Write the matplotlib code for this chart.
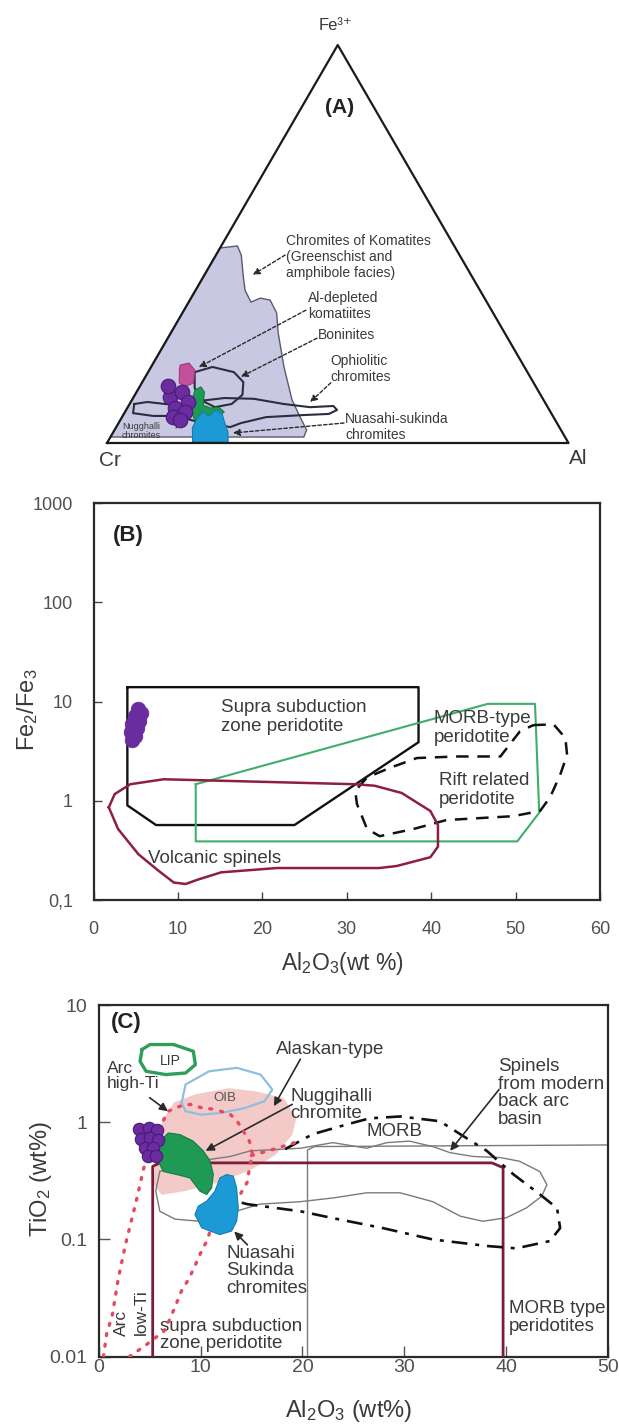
import numpy as np
import matplotlib
matplotlib.use("Agg")
import matplotlib.pyplot as plt
from matplotlib.ticker import NullLocator

plt.rcParams['font.family'] = ['Liberation Sans', 'DejaVu Sans']
plt.rcParams['mathtext.default'] = 'regular'

TXT = '#3a3a3a'
TICK = '#505050'

# ---------------- (A) Cr - Al - Fe3+ ternary, fields as % Fe3+ and % Al (Cr = rest)
komatiite_fe = [49.0, 49.5, 47.2, 42.2, 38.4, 35.4, 36.4, 35.9, 32.7, 27.6, 19.1, 10.8, 6.5, 3.3, 1.5, 1.5]
komatiite_al = [0.0, 3.5, 5.5, 8.4, 10.7, 13.5, 15.0, 17.4, 20.4, 23.3, 28.8, 34.7, 38.6, 41.6, 41.9, 0.0]

ophiolite_fe = [9.8, 10.3, 9.8, 9.3, 10.6, 11.3, 11.1, 9.8, 9.0, 9.3, 8.3, 7.3, 7.0, 6.5, 5.0, 4.0, 5.5, 6.8, 6.8, 7.5]
ophiolite_al = [1.0, 3.6, 7.7, 11.8, 15.0, 19.8, 26.3, 33.4, 39.5, 44.4, 45.7, 44.4, 38.7, 31.2, 26.5, 24.7, 16.3, 11.8, 6.6, 1.9]

boninite_fe = [17.8, 19.1, 17.8, 15.3, 12.1, 9.8, 9.0, 10.8, 13.8]
boninite_al = [10.1, 13.3, 18.6, 21.9, 23.3, 22.1, 18.9, 14.9, 12.1]

al_depleted_fe = [19.6, 20.1, 18.3, 15.1, 14.1, 15.1, 18.8]
al_depleted_al = [6.1, 7.7, 9.9, 11.2, 9.9, 8.1, 6.3]

green_a_fe = [13.3, 14.1, 12.8, 9.5, 8.8, 9.0, 7.8, 6.3, 5.8, 5.8, 7.8, 11.3]
green_a_al = [12.4, 13.3, 14.7, 16.1, 18.0, 19.7, 21.5, 20.5, 17.9, 16.1, 14.4, 12.9]

nuasahi_a_fe = [0.3, 3.8, 6.3, 7.8, 6.8, 8.3, 7.3, 5.3, 2.8, 0.3]
nuasahi_a_al = [18.4, 16.6, 16.4, 16.9, 18.7, 19.5, 21.3, 22.8, 24.8, 26.1]

nuggihalli_a_fe = [11.6, 12.8, 10.3, 8.8, 7.8, 6.5, 5.8, 14.3]
nuggihalli_a_al = [7.9, 9.9, 12.4, 10.4, 13.0, 11.1, 12.9, 6.1]

# ---------------- (B) Al2O3 vs Fe2/Fe3
supra_al = [4.0, 38.5, 38.5, 23.8, 7.4, 4.0]
supra_fe = [14, 14, 3.9, 0.57, 0.57, 0.9]

morb_al = [12.1, 46.7, 52.3, 52.8, 50.2, 12.1]
morb_fe = [1.47, 9.5, 9.5, 0.76, 0.39, 0.39]

rift_al = [52.1, 54.5, 55.9, 56.1, 55.3, 54.1, 52.9, 49.7, 45.8, 41.8, 37.9, 33.9, 32.4, 31.2,
           31.0, 32.4, 35.1, 38.3, 43.0, 48.2, 49.3, 50.5]
rift_fe = [5.8, 5.9, 4.3, 2.9, 1.85, 1.09, 0.79, 0.70, 0.67, 0.64, 0.52, 0.44, 0.52, 0.93,
           1.26, 1.72, 2.15, 2.7, 2.8, 2.8, 3.7, 5.0]

volcanic_al = [1.8, 2.5, 4.35, 8.3, 31.0, 33.3, 36.5, 39.9, 40.8, 40.8, 39.9, 35.9, 33.8, 21.7,
               15.1, 12.3, 10.9, 9.5, 7.6, 5.3, 2.9]
volcanic_fe = [0.86, 1.17, 1.47, 1.65, 1.47, 1.42, 1.2, 0.79, 0.57, 0.345, 0.27, 0.22, 0.21, 0.21,
               0.19, 0.16, 0.145, 0.15, 0.2, 0.29, 0.52]

nuggihalli_b_al = [5.3, 5.6, 4.9, 5.4, 4.6, 5.2, 4.4, 4.9, 4.6]
nuggihalli_b_fe = [8.5, 7.6, 7.2, 6.4, 5.9, 5.4, 4.9, 4.5, 4.1]

# ---------------- (C) Al2O3 vs TiO2
morb_c_al = [6.0, 5.6, 6.0, 7.5, 9.9, 12.9, 15.8, 19.8, 23.0, 26.3, 29.6, 32.8, 35.5, 37.7, 40.0,
             42.0, 43.5, 44.0, 43.3, 41.3, 39.4, 36.8, 34.5, 32.8, 30.5, 28.3, 26.3, 23.0, 19.8,
             14.9, 12.9, 8.5]
morb_c_ti = [0.38, 0.26, 0.174, 0.149, 0.143, 0.168, 0.20, 0.21, 0.226, 0.25, 0.25, 0.21, 0.158,
             0.143, 0.153, 0.186, 0.234, 0.294, 0.38, 0.465, 0.50, 0.51, 0.55, 0.62, 0.69, 0.67,
             0.60, 0.67, 0.60, 0.57, 0.51, 0.45]

backarc_al = [18.3, 21.0, 24.4, 26.6, 29.6, 33.5, 35.5, 38.1, 40.7, 43.3, 45.0, 45.3, 44.3, 41.0,
              38.1, 32.8, 27.9, 23.0, 19.8, 14.6, 13.1]
backarc_ti = [0.59, 0.79, 0.96, 1.08, 1.12, 1.02, 0.79, 0.57, 0.36, 0.243, 0.185, 0.125, 0.097,
              0.084, 0.088, 0.10, 0.125, 0.152, 0.174, 0.20, 0.216]

peridotite_al = [5.3, 5.3, 6.0, 38.6, 39.7, 39.7]
peridotite_ti = [0.01, 0.42, 0.45, 0.45, 0.41, 0.01]

morb_box_al = [20.5, 20.5, 21.2, 50.0]
morb_box_ti = [0.01, 0.58, 0.62, 0.64]

alaskan_al = [5.5, 6.2, 7.4, 9.6, 12.8, 15.5, 18.2, 19.4, 19.0, 17.4, 15.1, 12.0, 8.6, 6.2, 5.4]
alaskan_ti = [0.44, 1.0, 1.48, 1.74, 1.95, 1.83, 1.6, 1.08, 0.78, 0.53, 0.40, 0.31, 0.26, 0.24, 0.29]

arc_left_al = [0.46, 0.78, 1.35, 1.93, 2.71, 3.67, 4.25, 4.84, 6.8, 8.0, 9.0, 10.2, 11.4]
arc_left_ti = [0.010, 0.0156, 0.023, 0.047, 0.097, 0.21, 0.35, 0.57, 1.24, 1.37, 1.42, 1.32, 1.29]

arc_right_al = [3.0, 4.6, 6.4, 7.0, 7.6, 8.1, 8.9, 9.5, 10.1, 10.7, 11.0, 13.9, 14.6, 14.8, 15.1,
                14.8, 14.2, 13.6, 12.9, 11.4]
arc_right_ti = [0.010, 0.0125, 0.0165, 0.021, 0.028, 0.036, 0.047, 0.061, 0.08, 0.10, 0.125, 0.243,
                0.31, 0.41, 0.53, 0.69, 0.84, 1.02, 1.17, 1.29]

arc_mid_al = [15.0, 17.5, 19.5]
arc_mid_ti = [0.52, 0.60, 0.68]

lip_al = [4.26, 5.03, 7.36, 9.29, 9.49, 8.53, 6.58, 4.65, 4.06]
lip_ti = [4.17, 4.6, 4.6, 4.03, 3.1, 2.63, 2.55, 2.72, 3.31]

oib_al = [8.14, 8.53, 10.84, 13.56, 15.89, 17.05, 16.27, 14.34, 12.01, 10.07, 8.53]
oib_ti = [1.46, 2.10, 2.72, 2.91, 2.55, 1.90, 1.51, 1.32, 1.20, 1.16, 1.24]

green_c_al = [6.02, 6.83, 7.98, 9.28, 10.26, 10.92, 11.25, 11.09, 10.60, 9.94, 8.96, 7.65, 6.34, 5.85]
green_c_ti = [0.69, 0.81, 0.785, 0.69, 0.57, 0.47, 0.36, 0.275, 0.242, 0.258, 0.335, 0.358, 0.38, 0.465]

nuasahi_c_al = [11.90, 12.56, 13.21, 13.54, 13.70, 13.54, 13.05, 11.90, 10.92, 10.11, 9.45, 9.77, 10.60, 11.41]
nuasahi_c_ti = [0.335, 0.358, 0.347, 0.275, 0.186, 0.143, 0.118, 0.11, 0.118, 0.126, 0.163, 0.192, 0.212, 0.258]

nuggihalli_c_al = [4.0, 4.9, 5.7, 4.2, 5.0, 5.8, 4.5, 5.3, 4.8, 5.6]
nuggihalli_c_ti = [0.88, 0.90, 0.86, 0.72, 0.74, 0.70, 0.60, 0.60, 0.52, 0.52]

b_yticks = [0.1, 1, 10, 100, 1000]
b_yticklabels = ['0,1', '1', '10', '100', '1000']
c_yticks = [0.01, 0.1, 1, 10]
c_yticklabels = ['0.01', '0.1', '1', '10']

PURPLE = '#6a2c9e'
PURPLE_EDGE = '#4a1a78'
GREEN = '#1f9a55'
BLUE = '#1c9ad6'


def tern(fe, al):
    """Fe3+ and Al percentages -> cartesian position in the Cr-Al-Fe3+ triangle."""
    fe = np.asarray(fe, float) / 100.0
    al = np.asarray(al, float) / 100.0
    return al + fe / 2.0, fe * np.sqrt(3) / 2.0


def closed(x, y):
    return list(x) + [x[0]], list(y) + [y[0]]


def arrow(ax, tail, tip, dashed=False, lw=1.2, ms=12):
    ls = (0, (2.5, 1.6)) if dashed else '-'
    ax.annotate('', xy=tip, xytext=tail,
                arrowprops=dict(arrowstyle='-|>', color='#2a2a2a', lw=lw,
                                ls=ls, mutation_scale=ms, shrinkA=0, shrinkB=0))


fig = plt.figure(figsize=(6.19, 14.25), dpi=100)

# ======================= (A) =======================
ax_a = fig.add_axes([107 / 619, 1 - 443 / 1425, 461.5 / 619, 398 / 1425])
ax_a.set_xlim(0, 1)
ax_a.set_ylim(0, np.sqrt(3) / 2)
ax_a.axis('off')

tx, ty = tern([0, 0, 100, 0], [0, 100, 0, 0])
ax_a.plot(tx, ty, color='#1a1a1a', lw=1.6, zorder=5, clip_on=False)

kx, ky = tern(komatiite_fe, komatiite_al)
ax_a.fill(kx, ky, fc='#c8c8e2', ec='#5a5a6e', lw=1.0, zorder=1)

ox, oy = closed(*tern(ophiolite_fe, ophiolite_al))
ax_a.plot(ox, oy, color='#2c2c40', lw=1.5, zorder=3)
bx, by = closed(*tern(boninite_fe, boninite_al))
ax_a.plot(bx, by, color='#2c2c40', lw=1.5, zorder=3)

ax_a.fill(*tern(al_depleted_fe, al_depleted_al), fc='#c2509b', ec='#a03c80', lw=0.8, zorder=4)
ax_a.fill(*tern(green_a_fe, green_a_al), fc=GREEN, ec='#157a42', lw=0.8, zorder=4)
ax_a.fill(*tern(nuasahi_a_fe, nuasahi_a_al), fc=BLUE, ec='#157cb0', lw=0.8, zorder=4)
px, py = tern(nuggihalli_a_fe, nuggihalli_a_al)
ax_a.scatter(px, py, s=110, c=PURPLE, edgecolors=PURPLE_EDGE, linewidths=0.8, zorder=6)

ax_a.text(0.496, 0.909, 'Fe³⁺', ha='center', va='center', fontsize=12, color=TXT)
ax_a.text(0.504, 0.729, '(A)', ha='center', va='center', fontsize=15, fontweight='bold', color='#222')
ax_a.text(0.007, -0.037, 'Cr', ha='center', va='center', fontsize=15, color=TXT)
ax_a.text(1.02, -0.033, 'Al', ha='center', va='center', fontsize=15, color=TXT)

fa = 10
ax_a.text(0.388, 0.405, 'Chromites of Komatites\n(Greenschist and\namphibole facies)',
          ha='left', va='center', fontsize=fa, color=TXT, linespacing=1.15)
arrow(ax_a, (0.386, 0.409), (0.316, 0.366), dashed=True, lw=1.0, ms=10)
ax_a.text(0.4355, 0.298, 'Al-depleted\nkomatiites', ha='left', va='center',
          fontsize=fa, color=TXT, linespacing=1.15)
arrow(ax_a, (0.431, 0.289), (0.199, 0.165), dashed=True, lw=1.0, ms=10)
ax_a.text(0.457, 0.235, 'Boninites', ha='left', va='center', fontsize=fa, color=TXT)
arrow(ax_a, (0.455, 0.228), (0.290, 0.144), dashed=True, lw=1.0, ms=10)
ax_a.text(0.485, 0.161, 'Ophiolitic\nchromites', ha='left', va='center',
          fontsize=fa, color=TXT, linespacing=1.15)
arrow(ax_a, (0.485, 0.131), (0.440, 0.089), dashed=True, lw=1.0, ms=10)
ax_a.text(0.516, 0.035, 'Nuasahi-sukinda\nchromites', ha='left', va='center',
          fontsize=fa, color=TXT, linespacing=1.15)
arrow(ax_a, (0.5135, 0.0435), (0.273, 0.0218), dashed=True, lw=1.0, ms=10)
ax_a.text(0.0325, 0.026, 'Nugghalli\nchromites', ha='left', va='center',
          fontsize=6.5, color=TXT, linespacing=1.1)
arrow(ax_a, (0.1495, 0.0326), (0.1625, 0.05), dashed=True, lw=0.8, ms=7)

# ======================= (B) =======================
ax_b = fig.add_axes([93.6 / 619, 1 - 900 / 1425, 506.4 / 619, 396.7 / 1425])
ax_b.set_yscale('log')
ax_b.set_xlim(0, 60)
ax_b.set_ylim(0.1, 1000)
ax_b.set_xticks(range(0, 61, 10))
ax_b.set_yticks(b_yticks)
ax_b.set_yticklabels(b_yticklabels)
ax_b.yaxis.set_minor_locator(NullLocator())
ax_b.tick_params(direction='in', length=6, width=1, color='#444', labelcolor=TICK,
                 labelsize=13, pad=15)
for sp in ax_b.spines.values():
    sp.set_linewidth(1.6)
    sp.set_color('#2a2a2a')

ax_b.plot(*closed(supra_al, supra_fe), color='#111', lw=1.7, zorder=3)
ax_b.plot(*closed(morb_al, morb_fe), color='#3fae6a', lw=1.5, zorder=3)
ax_b.plot(*closed(rift_al, rift_fe), color='#111', lw=1.8, ls=(0, (5, 3.5)), zorder=3)
ax_b.plot(*closed(volcanic_al, volcanic_fe), color='#8e1f3f', lw=1.8, zorder=3)
ax_b.scatter(nuggihalli_b_al, nuggihalli_b_fe, s=110, c=PURPLE, edgecolors=PURPLE,
             linewidths=0.6, zorder=4)

fb = 13.5
ax_b.text(15.1, 7.0, 'Supra subduction\nzone peridotite', ha='left', va='center',
          fontsize=fb, color=TXT)
ax_b.text(40.3, 5.4, 'MORB-type\nperidotite', ha='left', va='center', fontsize=fb, color=TXT)
ax_b.text(40.9, 1.28, 'Rift related\nperidotite', ha='left', va='center', fontsize=fb, color=TXT)
ax_b.text(6.45, 0.26, 'Volcanic spinels', ha='left', va='center', fontsize=fb, color=TXT)
ax_b.text(0.068, 0.92, '(B)', transform=ax_b.transAxes, ha='center', va='center',
          fontsize=16, fontweight='bold', color='#222')

ax_b.set_ylabel('Fe$_2$/Fe$_3$', fontsize=17, color=TXT, va='center', ha='center')
ax_b.yaxis.set_label_coords(-0.1295, 0.479)
ax_b.set_xlabel('Al$_2$O$_3$(wt %)', fontsize=16.5, color=TXT, va='center', ha='center')
ax_b.xaxis.set_label_coords(0.4925, -0.159)

# ======================= (C) =======================
ax_c = fig.add_axes([98.7 / 619, 1 - 1356.7 / 1425, 509.3 / 619, 351.7 / 1425])
ax_c.set_yscale('log')
ax_c.set_xlim(0, 50)
ax_c.set_ylim(0.01, 10)
ax_c.set_xticks(range(0, 51, 10))
ax_c.set_yticks(c_yticks)
ax_c.set_yticklabels(c_yticklabels)
ax_c.yaxis.set_minor_locator(NullLocator())
ax_c.tick_params(direction='in', length=8, width=1, color='#555', labelcolor=TICK,
                 labelsize=14)
ax_c.tick_params(axis='y', pad=8)
ax_c.tick_params(axis='x', pad=2)
for sp in ax_c.spines.values():
    sp.set_linewidth(1.6)
    sp.set_color('#2a2a2a')

ax_c.fill(alaskan_al, alaskan_ti, fc='#f4cac8', ec='none', zorder=1)
ax_c.plot(*closed(morb_c_al, morb_c_ti), color='#7a7a7a', lw=1.0, zorder=2)
ax_c.plot(morb_box_al, morb_box_ti, color='#7a7a7a', lw=1.0, zorder=2)
ax_c.plot(peridotite_al, peridotite_ti, color='#7a1c3a', lw=2.0, zorder=3,
          solid_joinstyle='round')
ax_c.plot(backarc_al, backarc_ti, color='#111', lw=1.9, ls=(0, (6, 3, 1.5, 3)), zorder=3)
dot = dict(color='#e8475e', lw=2.4, ls=(0, (0.6, 2.6)), dash_capstyle='round', zorder=4)
ax_c.plot(arc_left_al, arc_left_ti, **dot)
ax_c.plot(arc_right_al, arc_right_ti, **dot)
ax_c.plot(arc_mid_al, arc_mid_ti, **dot)
ax_c.plot(*closed(lip_al, lip_ti), color='#2e9e5a', lw=2.4, zorder=3)
ax_c.plot(*closed(oib_al, oib_ti), color='#8fbfdf', lw=1.6, zorder=3)
ax_c.fill(green_c_al, green_c_ti, fc=GREEN, ec='#157a42', lw=0.8, zorder=5)
ax_c.fill(nuasahi_c_al, nuasahi_c_ti, fc=BLUE, ec='#157cb0', lw=0.8, zorder=5)
ax_c.scatter(nuggihalli_c_al, nuggihalli_c_ti, s=80, c=PURPLE, edgecolors=PURPLE_EDGE,
             linewidths=0.8, zorder=6)

fc_ = 13.5
ax_c.text(0.054, 0.949, '(C)', transform=ax_c.transAxes, ha='center', va='center',
          fontsize=16, fontweight='bold', color='#222')
ax_c.text(7.0, 3.3, 'LIP', ha='center', va='center', fontsize=10, color=TXT)
ax_c.text(12.4, 1.6, 'OIB', ha='center', va='center', fontsize=9.5, color='#555')
ax_c.text(0.8, 2.47, 'Arc\nhigh-Ti', ha='left', va='center', fontsize=12.5, color=TXT,
          linespacing=1.05)
arrow(ax_c, (5.0, 1.62), (6.8, 1.24))
ax_c.text(17.4, 4.19, 'Alaskan-type', ha='left', va='center', fontsize=fc_, color=TXT)
arrow(ax_c, (19.8, 3.45), (17.2, 1.37))
ax_c.text(18.8, 1.40, 'Nuggihalli\nchromite', ha='left', va='center', fontsize=fc_,
          color=TXT, linespacing=1.05)
arrow(ax_c, (19.0, 1.42), (10.5, 0.57))
ax_c.text(26.3, 0.84, 'MORB', ha='left', va='center', fontsize=fc_, color=TXT)
ax_c.text(39.2, 1.78, 'Spinels\nfrom modern\nback arc\nbasin', ha='left', va='center',
          fontsize=fc_, color=TXT, linespacing=1.05)
arrow(ax_c, (39.3, 1.9), (34.5, 0.57))
ax_c.text(12.5, 0.054, 'Nuasahi\nSukinda\nchromites', ha='left', va='center',
          fontsize=fc_, color=TXT, linespacing=1.05)
arrow(ax_c, (14.6, 0.09), (13.3, 0.117))
ax_c.text(2.2, 0.0193, 'Arc', rotation=90, ha='center', va='center', fontsize=12.5, color=TXT)
ax_c.text(4.15, 0.024, 'low-Ti', rotation=90, ha='center', va='center', fontsize=12.5, color=TXT)
ax_c.text(6.0, 0.0153, 'supra subduction\nzone peridotite', ha='left', va='center',
          fontsize=fc_, color=TXT, linespacing=1.05)
ax_c.text(40.3, 0.0215, 'MORB type\nperidotites', ha='left', va='center', fontsize=fc_,
          color=TXT, linespacing=1.05)

ax_c.set_ylabel('TiO$_2$ (wt%)', fontsize=17, color=TXT, va='center', ha='center')
ax_c.yaxis.set_label_coords(-0.114, 0.505)
ax_c.set_xlabel('Al$_2$O$_3$ (wt%)', fontsize=17, color=TXT, va='center', ha='center')
ax_c.xaxis.set_label_coords(0.491, -0.154)

fig.savefig('out.png', dpi=100)
